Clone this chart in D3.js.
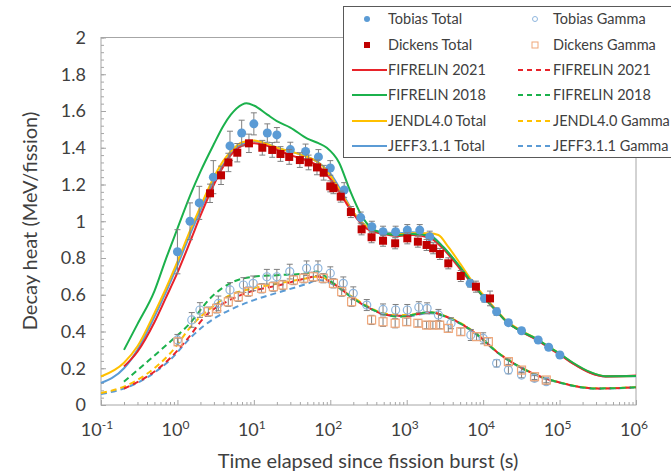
<!DOCTYPE html>
<html><head><meta charset="utf-8">
<script src="https://cdn.jsdelivr.net/npm/d3@7"></script>
<style>body{margin:0;background:#fff}svg{display:block}text{font-family:Lato,"Open Sans",sans-serif;fill:#404040}</style>
</head><body><svg id="c" width="671" height="474"></svg>
<script>
// ---------- data ----------
const xTickExps = [-1,0,1,2,3,4,5,6];
const yTicks = [0,0.2,0.4,0.6,0.8,1,1.2,1.4,1.6,1.8,2];
const yTickLabels = ["0","0.2","0.4","0.6","0.8","1","1.2","1.4","1.6","1.8","2"];

// Model curves – totals
const fif2018TotT = [0.2,0.3,0.5,0.7,1,1.5,2,3,4,5,7,8,10,15,20,30,50,70,90,130,180,250,350,500,800,1200,2000,3000,5000,7000,1e4,1.5e4,2e4,3e4,5e4,7e4,1e5,1.5e5,2.5e5,4e5,1e6];
const fif2018TotY = [0.30,0.44,0.62,0.79,0.96,1.15,1.27,1.42,1.52,1.58,1.635,1.642,1.63,1.58,1.545,1.51,1.45,1.425,1.40,1.32,1.17,1.04,0.96,0.935,0.925,0.93,0.92,0.86,0.75,0.67,0.59,0.51,0.455,0.405,0.36,0.32,0.28,0.23,0.18,0.157,0.158];
const fif2021TotT = [0.2,0.3,0.5,0.7,1,1.5,2,3,4,5,7,10,15,20,30,50,70,100,150,200,300,500,800,1200,2000,3000,5000,7000,1e4,1.5e4,2e4,3e4,5e4,7e4,1e5,1.5e5,2.5e5,4e5,1e6];
const fif2021TotY = [0.21,0.29,0.45,0.58,0.72,0.90,1.03,1.20,1.30,1.36,1.41,1.425,1.41,1.39,1.36,1.33,1.30,1.23,1.12,1.04,0.96,0.93,0.92,0.925,0.91,0.85,0.74,0.665,0.59,0.51,0.455,0.405,0.355,0.315,0.275,0.225,0.175,0.155,0.16];
const jendlTotT = [0.1,0.2,0.3,0.5,0.7,1,1.5,2,3,4,5,7,10,15,20,30,50,70,100,150,200,300,500,800,1200,2000,2600,3500,5000,7000,1e4,1.5e4,2e4,3e4,5e4,7e4,1e5,1.5e5,2.5e5,4e5,1e6];
const jendlTotY = [0.155,0.23,0.32,0.50,0.63,0.78,0.96,1.08,1.24,1.33,1.38,1.43,1.44,1.42,1.40,1.38,1.35,1.32,1.25,1.13,1.05,0.97,0.935,0.93,0.935,0.935,0.925,0.86,0.77,0.68,0.60,0.515,0.46,0.41,0.36,0.32,0.28,0.228,0.178,0.156,0.158];
const jeffTotT = [0.1,0.2,0.3,0.5,0.7,1,1.5,2,3,4,5,7,10,15,20,30,50,70,100,150,200,300,500,800,1200,2000,3000,5000,7000,1e4,1.5e4,2e4,3e4,5e4,7e4,1e5,1.5e5,2.5e5,4e5,1e6];
const jeffTotY = [0.12,0.20,0.30,0.48,0.61,0.76,0.94,1.06,1.22,1.31,1.37,1.42,1.435,1.42,1.40,1.38,1.35,1.32,1.26,1.14,1.05,0.97,0.94,0.935,0.94,0.925,0.86,0.75,0.67,0.595,0.512,0.456,0.406,0.357,0.318,0.278,0.226,0.176,0.155,0.156];

// Model curves – gamma
const fif2018GamT = [0.2,0.36,0.72,1.46,2.67,5.4,9.8,22,49,66,110,200,330,550,800,1000,2000,3300,5500,9000,1.5e4,2.5e4,5e4,1.1e5,3e5,1e6];
const fif2018GamY = [0.127,0.218,0.327,0.445,0.58,0.671,0.698,0.707,0.717,0.726,0.662,0.58,0.526,0.49,0.48,0.485,0.505,0.48,0.435,0.372,0.29,0.227,0.163,0.118,0.09,0.096];
const fif2021GamT = [0.2,0.4,0.8,1.32,2.4,4.4,9,22,49,66,110,200,330,550,1000,2000,3300,5500,9000,1.5e4,2.5e4,5e4,1.1e5,3e5,1e6];
const fif2021GamY = [0.09,0.154,0.254,0.354,0.49,0.562,0.617,0.653,0.69,0.70,0.66,0.58,0.526,0.49,0.485,0.505,0.48,0.435,0.372,0.29,0.227,0.163,0.118,0.09,0.096];
const jendlGamT = [0.1,0.2,0.4,0.8,1.6,3,5,10,20,50,70,110,200,330,550,1000,2000,3300,5500,9000,1.5e4,2.5e4,5e4,1.1e5,3e5,1e6];
const jendlGamY = [0.065,0.10,0.17,0.28,0.44,0.54,0.60,0.635,0.66,0.69,0.70,0.66,0.585,0.53,0.495,0.49,0.505,0.482,0.437,0.374,0.292,0.228,0.164,0.119,0.091,0.097];
const jeffGamT = [0.1,0.2,0.4,0.8,1.6,3,5.4,10,20,50,70,110,200,330,550,1000,2000,3300,5500,9000,1.5e4,2.5e4,5e4,1.1e5,3e5,1e6];
const jeffGamY = [0.06,0.09,0.15,0.245,0.38,0.47,0.526,0.571,0.61,0.66,0.68,0.655,0.58,0.525,0.488,0.483,0.50,0.478,0.433,0.37,0.288,0.225,0.161,0.117,0.089,0.095];

// Measurements
const tobTotT = [1.0,1.46,1.93,2.95,4.87,6.93,10,15,20,30,47.5,70,100,152,250,350,490,716,1018,1480,2000,6750,10400,15000,21400,31800,52500,72000,101000];
const tobTotY = [0.834,1.00,1.10,1.24,1.41,1.48,1.53,1.48,1.47,1.39,1.38,1.35,1.29,1.17,1.02,0.97,0.943,0.943,0.952,0.952,0.916,0.662,0.58,0.508,0.448,0.404,0.354,0.314,0.272];
const tobTotErr = [0.12,0.10,0.09,0.09,0.08,0.07,0.06,0.05,0.04,0.04,0.04,0.04,0.04,0.04,0.03,0.03,0.03,0.03,0.03,0.03,0.03,0.02,0.02,0.02,0.015,0.015,0.015,0.015,0.015];
const dicTotT = [2.67,3.72,4.64,6.07,8.63,12.9,17.4,22.3,29,40,52,67,82,100,110,137,186,257,347,490,706,1018,1400,1820,2220,2720,3500,5100,8050,12300];
const dicTotY = [1.152,1.25,1.32,1.373,1.424,1.40,1.388,1.366,1.35,1.333,1.32,1.293,1.264,1.19,1.18,1.134,1.05,0.956,0.913,0.894,0.88,0.907,0.889,0.871,0.853,0.822,0.771,0.702,0.644,0.58];
const dicTotErr = [0.05,0.05,0.05,0.05,0.05,0.04,0.04,0.04,0.04,0.04,0.04,0.04,0.04,0.03,0.03,0.03,0.03,0.03,0.03,0.03,0.03,0.03,0.03,0.03,0.03,0.03,0.03,0.03,0.03,0.04];
const tobGamT = [1.0,1.54,1.97,3.43,4.87,7.3,9.8,14.8,20,29.5,49,69,100,148,200,300,490,716,1018,1440,1850,2600,3800,6900,10000,15000,21400,31800,47000,67000];
const tobGamY = [0.354,0.463,0.517,0.553,0.626,0.653,0.662,0.698,0.698,0.726,0.744,0.744,0.717,0.662,0.608,0.544,0.52,0.517,0.517,0.532,0.526,0.49,0.445,0.381,0.363,0.227,0.19,0.163,0.145,0.127];
const tobGamErr = [0.03,0.04,0.04,0.04,0.04,0.04,0.04,0.04,0.04,0.04,0.04,0.04,0.035,0.035,0.035,0.03,0.03,0.03,0.03,0.03,0.03,0.03,0.03,0.03,0.03,0.02,0.02,0.015,0.015,0.015];
const dicGamT = [1.02,2.54,3.26,4.63,6.25,8.45,12.6,18,24,33,45,60,81,110,141,190,347,490,706,1000,1400,1820,2200,2700,3500,5100,8200,11700,21400,31800,47000,67000];
const dicGamY = [0.344,0.508,0.526,0.562,0.589,0.617,0.635,0.644,0.653,0.68,0.69,0.698,0.69,0.662,0.617,0.562,0.463,0.453,0.445,0.453,0.445,0.435,0.435,0.435,0.417,0.399,0.372,0.345,0.236,0.19,0.154,0.136];
const dicGamErr = [0.02,0.025,0.025,0.025,0.025,0.025,0.025,0.025,0.025,0.025,0.025,0.025,0.025,0.025,0.025,0.025,0.025,0.025,0.025,0.02,0.02,0.02,0.02,0.02,0.02,0.02,0.02,0.02,0.015,0.015,0.015,0.015];

const legendLeft = ["Tobias Total","Dickens Total","FIFRELIN 2021","FIFRELIN 2018","JENDL4.0 Total","JEFF3.1.1 Total"];
const legendRight = ["Tobias Gamma","Dickens Gamma","FIFRELIN 2021","FIFRELIN 2018","JENDL4.0 Gamma","JEFF3.1.1 Gamma"];

// ---------- styling ----------
const C = {red:"#E8232A", green:"#1BB14C", yellow:"#FFC000", blue:"#5B9BD5",
           tobTot:"#5B9BD5", dicTot:"#C00000", tobGam:"#8FB6DE", dicGam:"#EFA77A",
           axis:"#A6A6A6", err:"#7F7F7F"};

const svg = d3.select("#c");
const x = d3.scaleLog().domain([0.1,1e6]).range([101,636]);
const y = d3.scaleLinear().domain([0,2]).range([405,37.5]);

// Axes
const minorY = d3.range(0,2.0001,0.04);
svg.append("g").attr("transform","translate(101,0)")
  .call(d3.axisLeft(y).tickValues(minorY).tickSize(-3).tickFormat(""))
  .call(g=>{g.select(".domain").remove();g.selectAll("line").attr("stroke",C.axis);});
svg.append("g").attr("transform","translate(101,0)")
  .call(d3.axisLeft(y).tickValues(yTicks).tickSize(-5).tickPadding(15).tickFormat((d,i)=>yTickLabels[i]))
  .call(g=>{g.select(".domain").remove();g.selectAll("line").attr("stroke",C.axis);
    g.selectAll("text").attr("font-size",18).attr("fill","#404040").attr("font-family","Lato,sans-serif");});

const minorX = [];
for (let e=-1;e<6;e++) for (let k=2;k<10;k++) minorX.push(k*Math.pow(10,e));
svg.append("g").attr("transform","translate(0,405)")
  .call(d3.axisBottom(x).tickValues(minorX).tickSize(-3).tickFormat(""))
  .call(g=>{g.select(".domain").remove();g.selectAll("line").attr("stroke",C.axis);});
const xMajor = xTickExps.map(e=>Math.pow(10,e));
svg.append("g").attr("transform","translate(0,405)")
  .call(d3.axisBottom(x).tickValues(xMajor).tickSize(-5).tickFormat(""))
  .call(g=>{g.select(".domain").remove();g.selectAll("line").attr("stroke",C.axis);});
xTickExps.forEach(e=>{
  const t = svg.append("text").attr("x",x(Math.pow(10,e))+(e<0?-4:-2)).attr("y",436)
    .attr("text-anchor","middle").attr("font-size",18);
  t.append("tspan").text("10");
  t.append("tspan").attr("dy",-7).attr("font-size",12).text(String(e));
});

// plot frame
svg.append("rect").attr("x",101).attr("y",37.5).attr("width",535).attr("height",367.5)
  .attr("fill","none").attr("stroke",C.axis).attr("stroke-width",1);

// titles
svg.append("text").attr("x",368).attr("y",468).attr("text-anchor","middle").attr("font-size",20).text("Time elapsed since fission burst (s)");
svg.append("text").attr("transform","translate(37,221) rotate(-90)").attr("text-anchor","middle").attr("font-size",20).text("Decay heat (MeV/fission)");

// lines
const line = d3.line().x(d=>x(d[0])).y(d=>y(d[1])).curve(d3.curveMonotoneX);
function drawLine(T,Y,color,dashed){
  svg.append("path").datum(T.map((t,i)=>[t,Y[i]])).attr("d",line)
    .attr("fill","none").attr("stroke",color).attr("stroke-width",2)
    .attr("stroke-dasharray",dashed?"6,4":null);
}
drawLine(jeffGamT,jeffGamY,C.blue,true);
drawLine(jendlGamT,jendlGamY,C.yellow,true);
drawLine(fif2021GamT,fif2021GamY,C.red,true);
drawLine(fif2018GamT,fif2018GamY,C.green,true);
drawLine(jeffTotT,jeffTotY,C.blue,false);
drawLine(jendlTotT,jendlTotY,C.yellow,false);
drawLine(fif2021TotT,fif2021TotY,C.red,false);
drawLine(fif2018TotT,fif2018TotY,C.green,false);

// measurements
function drawErr(T,Y,E){
  const g = svg.append("g").attr("stroke",C.err).attr("stroke-width",1);
  T.forEach((t,i)=>{
    const cx=x(t), y1=y(Y[i]+E[i]), y2=y(Y[i]-E[i]);
    g.append("line").attr("x1",cx).attr("x2",cx).attr("y1",y1).attr("y2",y2);
    g.append("line").attr("x1",cx-3).attr("x2",cx+3).attr("y1",y1).attr("y2",y1);
    g.append("line").attr("x1",cx-3).attr("x2",cx+3).attr("y1",y2).attr("y2",y2);
  });
}
drawErr(tobGamT,tobGamY,tobGamErr);
drawErr(dicGamT,dicGamY,dicGamErr);
svg.append("g").selectAll("circle").data(tobGamT).join("circle")
  .attr("cx",d=>x(d)).attr("cy",(d,i)=>y(tobGamY[i])).attr("r",4)
  .attr("fill","none").attr("stroke",C.tobGam).attr("stroke-width",1.2);
svg.append("g").selectAll("rect").data(dicGamT).join("rect")
  .attr("x",d=>x(d)-4).attr("y",(d,i)=>y(dicGamY[i])-4).attr("width",8).attr("height",8)
  .attr("fill","none").attr("stroke",C.dicGam).attr("stroke-width",1.2);
drawErr(tobTotT,tobTotY,tobTotErr);
svg.append("g").selectAll("circle").data(tobTotT).join("circle")
  .attr("cx",d=>x(d)).attr("cy",(d,i)=>y(tobTotY[i])).attr("r",4.5).attr("fill",C.tobTot);
drawErr(dicTotT,dicTotY,dicTotErr);
svg.append("g").selectAll("rect").data(dicTotT).join("rect")
  .attr("x",d=>x(d)-4).attr("y",(d,i)=>y(dicTotY[i])-4).attr("width",8).attr("height",8).attr("fill",C.dicTot);

// legend
const lg = svg.append("g");
lg.append("rect").attr("x",343.5).attr("y",6.5).attr("width",340).attr("height",151)
  .attr("fill","#fff").attr("stroke","#595959").attr("stroke-width",1);
const rowY = [19,45,70,95,121,146];
const lineCols = [null,null,C.red,C.green,C.yellow,C.blue];
legendLeft.forEach((s,i)=>{
  const yy=rowY[i];
  if(i===0) lg.append("circle").attr("cx",367).attr("cy",yy).attr("r",3).attr("fill",C.tobTot);
  else if(i===1) lg.append("rect").attr("x",364).attr("y",yy-3).attr("width",6).attr("height",6).attr("fill",C.dicTot);
  else lg.append("line").attr("x1",352).attr("x2",387).attr("y1",yy).attr("y2",yy).attr("stroke",lineCols[i]).attr("stroke-width",2);
  lg.append("text").attr("x",388).attr("y",yy+5).attr("font-size",14.5).attr("fill","#333").text(s);
});
legendRight.forEach((s,i)=>{
  const yy=rowY[i];
  if(i===0) lg.append("circle").attr("cx",535).attr("cy",yy).attr("r",2.5).attr("fill","none").attr("stroke",C.tobGam);
  else if(i===1) lg.append("rect").attr("x",532).attr("y",yy-3).attr("width",6).attr("height",6).attr("fill","none").attr("stroke",C.dicGam);
  else lg.append("line").attr("x1",518).attr("x2",552).attr("y1",yy).attr("y2",yy).attr("stroke",lineCols[i]).attr("stroke-width",2).attr("stroke-dasharray","5,4");
  lg.append("text").attr("x",553).attr("y",yy+5).attr("font-size",14.5).attr("fill","#333").text(s);
});
</script></body></html>
